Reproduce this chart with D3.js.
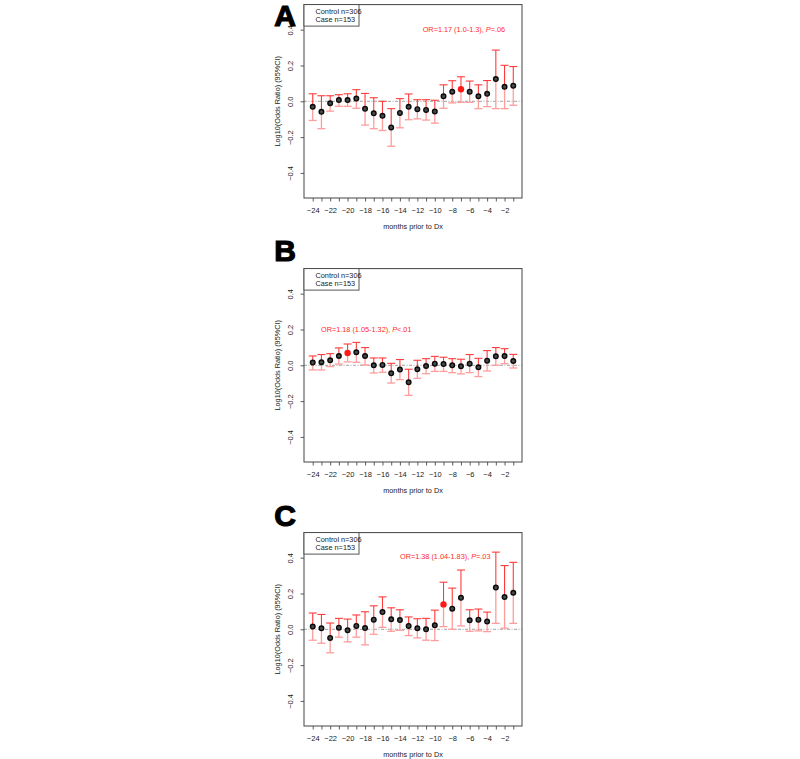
<!DOCTYPE html>
<html><head><meta charset="utf-8">
<script src="https://cdn.jsdelivr.net/npm/d3@7"></script>
<style>body{margin:0;background:#fff}svg{display:block}text{font-family:"Liberation Sans",Arial,sans-serif}</style>
</head><body>
<svg id="chart" width="800" height="759"></svg>
<script>
const months = [-24,-23,-22,-21,-20,-19,-18,-17,-16,-15,-14,-13,-12,-11,-10,-9,-8,-7,-6,-5,-4,-3,-2,-1];
const xTickLabels = [-24,-22,-20,-18,-16,-14,-12,-10,-8,-6,-4,-2];
const yTicks = [-0.4,-0.2,0.0,0.2,0.4];

const estA = [-0.031,-0.059,-0.011,0.007,0.007,0.015,-0.042,-0.067,-0.081,-0.146,-0.065,-0.031,-0.044,-0.048,-0.057,0.028,0.054,0.067,0.054,0.028,0.042,0.124,0.081,0.087];
const upA  = [0.042,0.031,0.031,0.037,0.042,0.065,0.044,0.020,0.000,-0.041,0.015,0.041,0.009,0.009,0.006,0.092,0.115,0.137,0.113,0.092,0.116,0.286,0.201,0.194];
const lowA = [-0.107,-0.153,-0.055,-0.028,-0.028,-0.039,-0.133,-0.153,-0.163,-0.251,-0.148,-0.103,-0.098,-0.105,-0.122,-0.039,-0.009,-0.006,-0.006,-0.041,-0.030,-0.041,-0.041,-0.022];

const estB = [0.015,0.017,0.028,0.052,0.069,0.073,0.052,0.000,0.002,-0.045,-0.024,-0.095,-0.022,-0.004,0.009,0.007,0.000,-0.006,0.009,-0.011,0.026,0.050,0.052,0.024];
const upB  = [0.052,0.060,0.065,0.097,0.119,0.128,0.099,0.041,0.041,0.011,0.032,-0.022,0.028,0.037,0.050,0.045,0.037,0.034,0.060,0.039,0.082,0.099,0.093,0.061];
const lowB = [-0.026,-0.026,-0.007,0.007,0.019,0.017,0.002,-0.043,-0.039,-0.099,-0.080,-0.168,-0.073,-0.047,-0.034,-0.034,-0.041,-0.048,-0.041,-0.063,-0.032,0.000,0.009,-0.015];

const estC = [0.015,0.006,-0.048,0.009,-0.006,0.019,0.007,0.054,0.096,0.056,0.052,0.019,0.006,0.000,0.022,0.139,0.115,0.176,0.050,0.054,0.043,0.233,0.180,0.204];
const upC  = [0.091,0.083,0.035,0.061,0.057,0.080,0.098,0.131,0.181,0.120,0.109,0.069,0.059,0.061,0.107,0.263,0.230,0.331,0.109,0.113,0.096,0.431,0.356,0.374];
const lowC = [-0.061,-0.078,-0.131,-0.044,-0.070,-0.044,-0.087,-0.028,0.011,-0.011,-0.006,-0.035,-0.048,-0.061,-0.063,0.015,0.000,0.019,-0.011,-0.009,-0.013,0.033,0.006,0.033];

const panelLetters = ["A","B","C"];
const highlightMonths = [-7,-20,-9];
const orLabels = [["OR=1.17 (1.0-1.3), ","=.06"],["OR=1.18 (1.05-1.32), ","<.01"],["OR=1.38 (1.04-1.83), ","=.03"]];
const legendLines = ["Control n=306","Case n=153"];

const panels = [
  {est:estA, up:upA, low:lowA},
  {est:estB, up:upB, low:lowB},
  {est:estC, up:upC, low:lowC}
];

// layout
const L = 304, R = 522, panelTop = 4.6, panelH = 193.4, step = 264;
const orPos = [[422.7,31.8],[321,67.5],[400,31.2]];
const letterBase = [26,261,526];

const svg = d3.select("#chart");
const x = d3.scaleLinear().domain([-25,0]).range([L,R]);

panels.forEach((p,i)=>{
  const oy = i*step;
  const top = oy+panelTop, bot = top+panelH;
  const y = d3.scaleLinear().domain([-0.54,0.54]).range([bot,top]);
  const g = svg.append("g");

  // zero line
  g.append("line").attr("x1",L).attr("x2",R).attr("y1",y(0)).attr("y2",y(0))
    .attr("stroke","#8a8a8a").attr("stroke-width",0.8).attr("stroke-dasharray","3,1.5,1,1.5");

  // x axis
  const xa = d3.axisBottom(x).tickValues(months).tickSize(3.5)
    .tickFormat(d=> xTickLabels.includes(d) ? String(d).replace("-","\u2212") : "");
  const gx = g.append("g").attr("transform",`translate(0,${bot})`).call(xa);
  gx.select(".domain").remove();
  gx.selectAll(".tick line").attr("stroke","#333").attr("stroke-width",0.8);
  gx.selectAll(".tick text").attr("font-size","7.5px").attr("fill","#222").attr("dy","0").attr("y",14.5);

  // y axis
  const ya = d3.axisLeft(y).tickValues(yTicks).tickSize(3.5).tickFormat(d=>d3.format(".1f")(d).replace("-","\u2212"));
  const gy = g.append("g").attr("transform",`translate(${L},0)`).call(ya);
  gy.select(".domain").remove();
  gy.selectAll(".tick line").attr("stroke","#333").attr("stroke-width",0.8);
  gy.selectAll(".tick text").attr("font-size","7.5px").attr("fill","#222")
    .attr("x",null).attr("dy",null).attr("text-anchor","middle")
    .attr("transform","translate(-11.5,0) rotate(-90)");

  // box
  g.append("rect").attr("x",L).attr("y",top).attr("width",R-L).attr("height",panelH)
    .attr("fill","none").attr("stroke","#444").attr("stroke-width",1);

  // legend
  g.append("rect").attr("x",L).attr("y",top).attr("width",55).attr("height",21.5)
    .attr("fill","#fff").attr("stroke","#444").attr("stroke-width",0.9);
  legendLines.forEach((t,j)=>{
    g.append("text").attr("x",315.5).attr("y",top+9.5+j*8).attr("font-size","7.3px").attr("fill","#222").text(t);
  });

  // OR label
  const ot = g.append("text").attr("x",orPos[i][0]).attr("y",oy+orPos[i][1]).attr("font-size","7.3px").attr("fill","#ff2a2a");
  ot.append("tspan").text(orLabels[i][0]);
  ot.append("tspan").attr("font-style","italic").text("P");
  ot.append("tspan").text(orLabels[i][1]);

  // error bars
  const data = months.map((m,k)=>({m, e:p.est[k], u:p.up[k], l:p.low[k]}));
  const cw = 4;
  const eb = g.append("g");
  data.forEach(d=>{
    const cx = x(d.m);
    eb.append("line").attr("x1",cx).attr("x2",cx).attr("y1",y(d.e)).attr("y2",y(d.l)).attr("stroke","#ff9c9c").attr("stroke-width",1.3);
    eb.append("line").attr("x1",cx-cw).attr("x2",cx+cw).attr("y1",y(d.l)).attr("y2",y(d.l)).attr("stroke","#ff9c9c").attr("stroke-width",1.3);
    eb.append("line").attr("x1",cx).attr("x2",cx).attr("y1",y(d.e)).attr("y2",y(d.u)).attr("stroke","#ff3b3b").attr("stroke-width",1.1);
    eb.append("line").attr("x1",cx-cw).attr("x2",cx+cw).attr("y1",y(d.u)).attr("y2",y(d.u)).attr("stroke","#ff3b3b").attr("stroke-width",1.1);
  });

  // points
  g.selectAll("circle.pt").data(data).join("circle").attr("class","pt")
    .attr("cx",d=>x(d.m)).attr("cy",d=>y(d.e))
    .attr("r",d=>d.m===highlightMonths[i]?3.2:2.3)
    .attr("fill",d=>d.m===highlightMonths[i]?"#ff1a1a":"#4a4a4a")
    .attr("stroke",d=>d.m===highlightMonths[i]?"#ff1a1a":"#0a0a0a")
    .attr("stroke-width",d=>d.m===highlightMonths[i]?0:1.4);

  // axis titles
  g.append("text").attr("transform",`translate(280,${y(0)}) rotate(-90)`).attr("text-anchor","middle")
    .attr("font-size","7.3px").attr("fill","#222").text("Log10(Odds Ratio) (95%CI)");
  g.append("text").attr("x",(L+R)/2).attr("y",oy+228.5).attr("text-anchor","middle")
    .attr("font-size","7.3px").attr("fill","#222").text("months prior to Dx");

  // panel letter
  svg.append("text").attr("x",285).attr("y",letterBase[i]).attr("text-anchor","middle")
    .attr("font-size","30px").attr("font-weight","bold").attr("fill","#000").attr("stroke","#000").attr("stroke-width",1.2)
    .text(panelLetters[i]);
});
</script>
</body></html>
